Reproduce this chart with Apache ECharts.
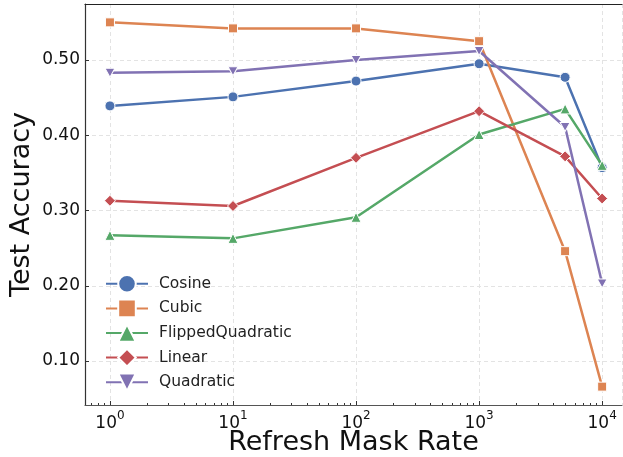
<!DOCTYPE html>
<html>
<head>
<meta charset="utf-8">
<script src="https://cdn.jsdelivr.net/npm/echarts@6/dist/echarts.min.js"></script>
<style>html,body{margin:0;padding:0;background:#fff}#c{width:623px;height:457px}</style>
</head>
<body>
<div id="c"></div>
<script>
const rates = [1, 10, 100, 1000, 5000, 10000];
const seriesNames = ['Cosine', 'Cubic', 'FlippedQuadratic', 'Linear', 'Quadratic'];
const cosine = [0.439, 0.451, 0.472, 0.495, 0.477, 0.357];
const cubic = [0.550, 0.542, 0.542, 0.525, 0.246, 0.066];
const flippedQuadratic = [0.267, 0.263, 0.291, 0.401, 0.435, 0.360];
const linear = [0.313, 0.306, 0.370, 0.432, 0.372, 0.316];
const quadratic = [0.483, 0.485, 0.500, 0.512, 0.411, 0.203];
const minorTickValues = [];
for (let e = -1; e <= 4; e++) for (let m = 2; m <= 9; m++) minorTickValues.push(m * Math.pow(10, e));

const colors = ['#4C72B0', '#DD8452', '#55A868', '#C44E52', '#8172B3'];
const symbols = ['circle', 'rect', 'triangle', 'diamond', 'path://M0,0 L10,0 L5,9 Z'];
const symbolSizes = [10, 9, 10, [11, 11], [10, 9]];
const values = [cosine, cubic, flippedQuadratic, linear, quadratic];

const font = 'DejaVu Sans';
const xMin = 0.627, xMax = 14500;

const chart = echarts.init(document.getElementById('c'), null, {renderer: 'canvas'});
chart.setOption({
  animation: false,
  textStyle: {fontFamily: font},
  grid: {left: 85, right: 1, top: 4, bottom: 52, containLabel: false, outerBoundsMode: 'none'},
  legend: {
    orient: 'vertical', left: 100, top: 269,
    itemWidth: 42, itemHeight: 22, itemGap: 5,
    textStyle: {fontSize: 15.5, color: '#222', fontFamily: font, padding: [0, 0, 0, 6]},
    data: seriesNames
  },
  xAxis: [
    {
      type: 'log', logBase: 10, min: xMin, max: xMax,
      name: 'Refresh Mask Rate', nameLocation: 'middle', nameGap: 24, nameMoveOverlap: false,
      nameTextStyle: {fontSize: 27, color: '#111', fontFamily: font},
      axisLine: {show: true, lineStyle: {color: '#555', width: 1.2}},
      axisTick: {show: true, inside: true, length: 4, lineStyle: {color: '#333'}},
      axisLabel: {
        showMinLabel: false, showMaxLabel: false, margin: 5,
        formatter: v => '{b|10}{s|' + Math.round(Math.log10(v)) + '}',
        rich: {
          b: {fontSize: 17, color: '#111', fontFamily: font, lineHeight: 22, verticalAlign: 'bottom'},
          s: {fontSize: 12, color: '#111', fontFamily: font, verticalAlign: 'top', lineHeight: 22, padding: [0, 0, 9, 0]}
        }
      },
      splitLine: {show: true, lineStyle: {color: '#e3e3e3', type: [4, 3], width: 1}}
    },
    {
      type: 'log', logBase: 10, min: xMin, max: xMax, position: 'bottom',
      axisLine: {show: false},
      axisLabel: {show: false},
      splitLine: {show: false},
      axisTick: {show: true, inside: true, length: 2, customValues: minorTickValues, lineStyle: {color: '#333'}}
    },
    {
      type: 'log', logBase: 10, min: xMin, max: xMax, position: 'top',
      axisLine: {show: true, lineStyle: {color: '#222', width: 1.2}},
      axisLabel: {show: false}, axisTick: {show: false}, splitLine: {show: false}
    }
  ],
  yAxis: {
    type: 'value', min: 0.0416, max: 0.5744, splitNumber: 5,
    name: 'Test Accuracy', nameLocation: 'middle', nameGap: 50, nameMoveOverlap: false,
    nameTextStyle: {fontSize: 27, color: '#111', fontFamily: font},
    axisLine: {show: true, lineStyle: {color: '#333', width: 1.2}},
    axisTick: {show: true, inside: true, length: 4, lineStyle: {color: '#333'}},
    axisLabel: {
      showMinLabel: false, showMaxLabel: false, fontSize: 17, color: '#111', margin: 5,
      formatter: v => v.toFixed(2)
    },
    splitLine: {show: true, lineStyle: {color: '#e3e3e3', type: [4, 3], width: 1}}
  },
  series: seriesNames.map((name, i) => ({
    name, type: 'line',
    xAxisIndex: 0,
    data: rates.map((r, j) => [r, values[i][j]]),
    symbol: symbols[i], symbolSize: symbolSizes[i],
    lineStyle: {color: colors[i], width: 2.5},
    itemStyle: {color: colors[i], borderColor: '#fff', borderWidth: 1},
    emphasis: {disabled: true},
    z: 2 + i
  }))
});
</script>
</body>
</html>
